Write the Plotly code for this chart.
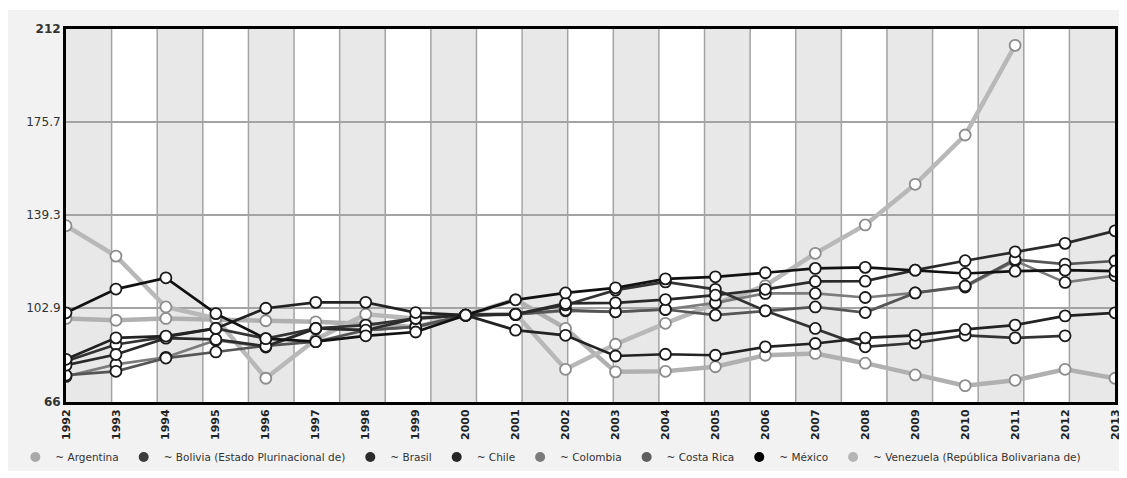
import plotly.graph_objects as go

years = list(range(1992, 2014))

argentina = [98.7, 98.0, 98.7, 98.3, 97.8, 97.4, 96.5, 95.4, 100, 106.1, 94.8, 77.8, 78.0, 79.8, 84.3, 85.0, 81.2, 76.6, 72.4, 74.5, 78.8, 75.3]
bolivia = [82.0, 88.5, 91.5, 94.8, 90.8, 94.8, 96.1, 98.7, 100, 100.3, 104.0, 109.8, 113.0, 110.1, 101.7, 94.8, 87.6, 89.1, 92.1, 91.1, 91.9, None]
brasil = [80.4, 84.6, 91.0, 90.5, 87.8, 94.8, 94.1, 98.7, 100, 100.3, 104.6, 104.8, 106.1, 107.8, 110.1, 113.2, 113.3, 117.6, 121.3, 124.8, 128.1, 133.0]
chile = [82.7, 91.1, 91.8, 94.8, 102.7, 105.0, 105.0, 101.0, 100, 94.1, 92.1, 84.0, 84.7, 84.3, 87.6, 88.9, 91.1, 92.1, 94.4, 96.1, 99.7, 100.9]
colombia = [76.0, 80.7, 83.5, 90.2, 87.5, 94.8, 94.1, 95.4, 100, 100.3, 101.7, 101.3, 102.2, 104.8, 108.5, 108.5, 106.9, 108.7, 111.0, 121.3, 112.8, 115.5]
costa_rica = [76.5, 78.0, 83.2, 85.6, 88.0, 89.6, 94.1, 95.4, 100, 100.3, 102.0, 101.3, 102.2, 100.0, 101.7, 103.2, 101.0, 108.7, 111.4, 121.8, 120.0, 121.2]
mexico = [100.9, 110.2, 114.6, 100.6, 90.8, 89.6, 91.9, 93.4, 100, 106.0, 108.7, 110.7, 114.2, 115.0, 116.6, 118.3, 118.7, 117.6, 116.3, 117.2, 117.6, 117.2]
venezuela = [135.0, 123.1, 103.2, 98.8, 75.3, 90.5, 100.3, 98.7, 100, 100.5, 78.8, 88.6, 96.8, 104.5, 111.5, 124.2, 135.3, 151.2, 170.5, 205.6, None, None]

names = ["Argentina", "Bolivia (Estado Plurinacional de)", "Brasil", "Chile",
         "Colombia", "Costa Rica", "México", "Venezuela (República Bolivariana de)"]
values = [argentina, bolivia, brasil, chile, colombia, costa_rica, mexico, venezuela]
legend_colors = ["#a9a9a9", "#3c3c3c", "#2c2c2c", "#262626", "#7a7a7a", "#5e5e5e", "#000000", "#b5b5b5"]
line_colors = ["#b0b0b0", "#333333", "#2a2a2a", "#222222", "#7c7c7c", "#555555", "#111111", "#b8b8b8"]
light = [True, False, False, False, False, False, False, True]

y_ticks = [66, 102.9, 139.3, 175.7, 212]
y_ticktext = ["<b>66</b>", "102.9", "139.3", "175.7", "<b>212</b>"]

fig = go.Figure()

order = [0, 7, 4, 5, 1, 2, 3, 6]
for i in order:
    lt = light[i]
    fig.add_trace(go.Scatter(
        x=years, y=values[i], mode="lines+markers", name=names[i],
        showlegend=False, connectgaps=False,
        line=dict(color=line_colors[i], width=4.5 if lt else 2.7),
        marker=dict(size=11, color="white",
                    line=dict(color="#8c8c8c" if lt else "#1a1a1a", width=1.8)),
    ))

for i in range(len(names)):
    fig.add_trace(go.Scatter(
        x=[None], y=[None], mode="markers", name="~ " + names[i],
        marker=dict(size=10, color=legend_colors[i]), showlegend=True,
    ))

# page body has an 8px margin: figure origin sits at window (8, 8)
OFF = 8
FIG_W, FIG_H = 1127 - OFF, 478 - OFF
PLOT_L, PLOT_R, PLOT_T, PLOT_B = 66, 1122, 29, 402  # window pixels
L = PLOT_L - OFF
T = PLOT_T - OFF
R = FIG_W - (PLOT_R - OFF)
B = FIG_H - (PLOT_B - OFF)
W = PLOT_R - PLOT_L
H = PLOT_B - PLOT_T

def px_to_paper_x(p):
    return (p - PLOT_L) / W

def px_to_paper_y(p):
    return (PLOT_B - p) / H

shapes = []
shapes.append(dict(type="rect", xref="paper", yref="paper",
                   x0=px_to_paper_x(7), x1=px_to_paper_x(1130),
                   y0=px_to_paper_y(471), y1=px_to_paper_y(10),
                   fillcolor="#f2f2f2", line=dict(width=0), layer="below"))
shapes.append(dict(type="rect", xref="paper", yref="paper", x0=0, x1=1, y0=0, y1=1,
                   fillcolor="white", line=dict(width=0), layer="below"))
nb = 23
for k in range(nb):
    if k % 2 == 0:
        shapes.append(dict(type="rect", xref="paper", yref="paper",
                           x0=k / nb, x1=(k + 1) / nb, y0=0, y1=1,
                           fillcolor="#e8e8e8", line=dict(width=0), layer="below"))
for k in range(1, nb):
    shapes.append(dict(type="line", xref="paper", yref="paper",
                       x0=k / nb, x1=k / nb, y0=0, y1=1,
                       line=dict(color="#a3a3a3", width=1.5), layer="below"))

fig.update_layout(
    width=FIG_W, height=FIG_H,
    margin=dict(l=L, r=R, t=T, b=B, pad=0),
    paper_bgcolor="white", plot_bgcolor="white",
    font=dict(family="DejaVu Sans", color="#333333"),
    shapes=shapes,
    showlegend=True,
    legend=dict(orientation="h", x=px_to_paper_x(15), xanchor="left",
                y=px_to_paper_y(457), yanchor="middle",
                font=dict(size=10.5, color="#333333", family="DejaVu Sans"),
                bgcolor="rgba(0,0,0,0)", itemwidth=30, tracegroupgap=0),
    xaxis=dict(range=[1992, 2013], tickvals=years,
               ticktext=["<b>%d</b>" % y for y in years], tickangle=-90,
               tickfont=dict(size=11, color="#222222"),
               showgrid=False, zeroline=False, showline=True, linecolor="black",
               linewidth=3, mirror=True, ticks=""),
    yaxis=dict(range=[66, 212], tickvals=y_ticks, ticktext=y_ticktext,
               tickfont=dict(size=12, color="#333333"),
               showgrid=True, gridcolor="#a3a3a3", gridwidth=1.5, zeroline=False,
               showline=True, linecolor="black", linewidth=3, mirror=True, ticks=""),
)

fig.write_html("out.html")
